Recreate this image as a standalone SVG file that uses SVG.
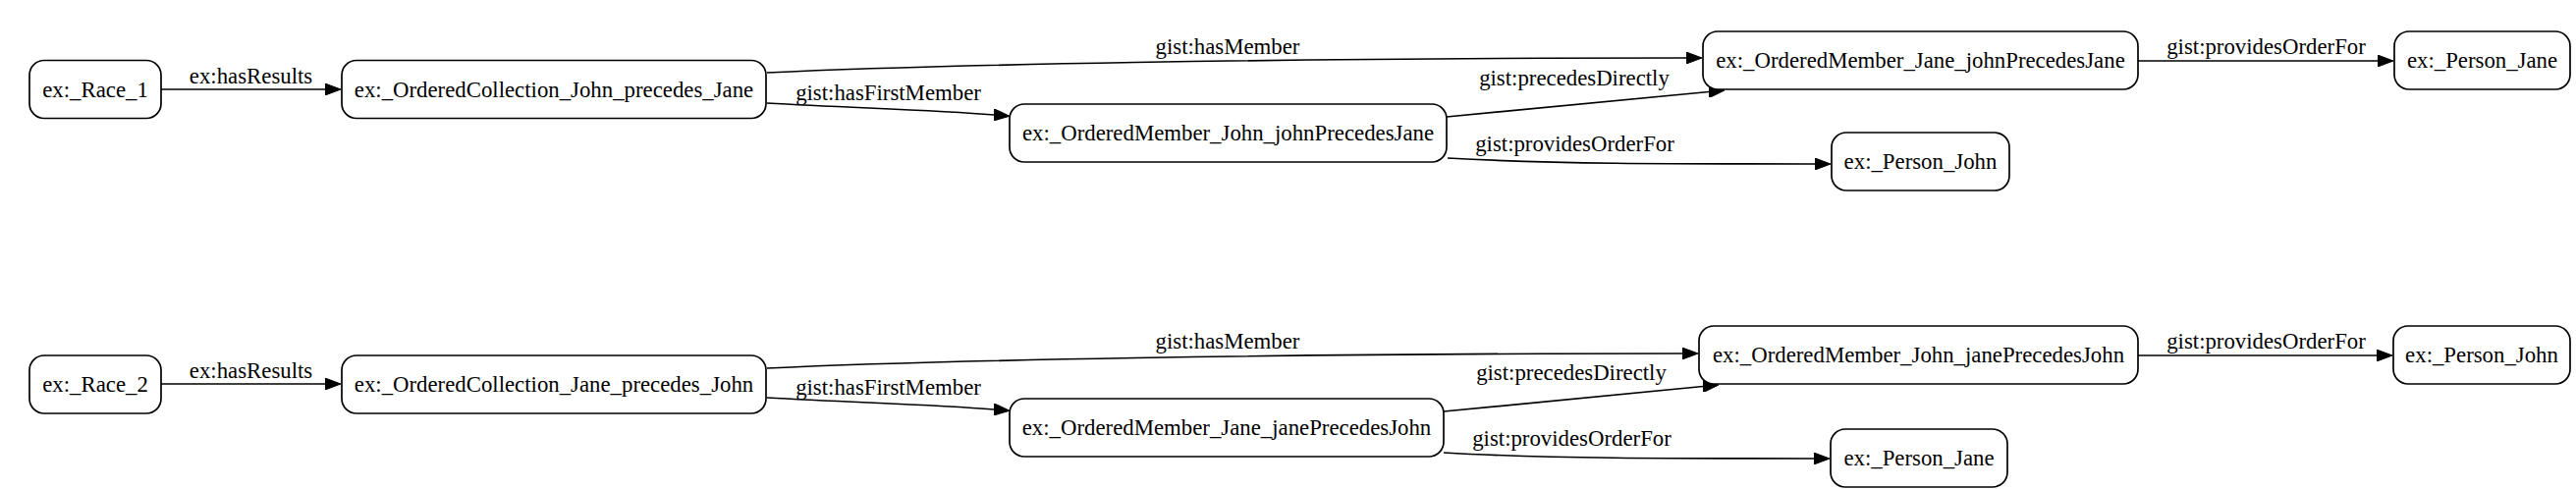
<svg xmlns="http://www.w3.org/2000/svg" width="2623" height="498" viewBox="0 0 2623 498">
<style>
.node rect{fill:#fff;stroke:#000;stroke-width:1.7}
text{font-family:"Liberation Serif","Times New Roman",serif;font-size:22.8px;fill:#000;text-anchor:middle}
.edge path{fill:none;stroke:#000;stroke-width:1.7}
</style>
<defs>
<marker id="arr" viewBox="0 0 16 12" refX="0" refY="6" markerWidth="16" markerHeight="12" markerUnits="userSpaceOnUse" orient="auto">
<path d="M0,0 L16,6 L0,12 z" fill="#000" stroke="#000" stroke-width="1"/>
</marker>
</defs>
<rect width="2623" height="498" fill="#fff"/>
<g id="connectors" class="edge">
<path d="M164,91 L331,91" marker-end="url(#arr)"/>
<text x="255.5" y="85">ex:hasResults</text>
<path d="M781,74 C950,66 1300,59 1717,59" marker-end="url(#arr)"/>
<text x="1250" y="55">gist:hasMember</text>
<path d="M781,105 C870,110 950,112 1012,117" marker-end="url(#arr)"/>
<text x="904.5" y="102">gist:hasFirstMember</text>
<path d="M1473,119 C1570,110 1660,101 1740,93.5" marker-end="url(#arr)"/>
<text x="1603" y="87">gist:precedesDirectly</text>
<path d="M1474,161 C1580,167 1700,167 1848,167" marker-end="url(#arr)"/>
<text x="1603.5" y="154">gist:providesOrderFor</text>
<path d="M2177,62 L2421,62" marker-end="url(#arr)"/>
<text x="2307.5" y="55">gist:providesOrderFor</text>

<path d="M164,391 L331,391" marker-end="url(#arr)"/>
<text x="255.5" y="385">ex:hasResults</text>
<path d="M781,375 C950,367 1300,360 1713,360" marker-end="url(#arr)"/>
<text x="1250" y="355">gist:hasMember</text>
<path d="M781,405 C870,410 950,412 1012,417" marker-end="url(#arr)"/>
<text x="904.5" y="402">gist:hasFirstMember</text>
<path d="M1470,419 C1567,410 1657,401 1734,393.5" marker-end="url(#arr)"/>
<text x="1600" y="387">gist:precedesDirectly</text>
<path d="M1470,461 C1576,467 1700,467 1847,467" marker-end="url(#arr)"/>
<text x="1600.5" y="454">gist:providesOrderFor</text>
<path d="M2177,362 L2420,362" marker-end="url(#arr)"/>
<text x="2307.5" y="355">gist:providesOrderFor</text>
</g>

<g id="race1" class="node"><rect x="30" y="61.5" width="134" height="59" rx="15"/><text x="97" y="98.5">ex:_Race_1</text></g>
<g id="coll1" class="node"><rect x="348" y="61.5" width="432" height="59" rx="15"/><text x="564" y="98.5">ex:_OrderedCollection_John_precedes_Jane</text></g>
<g id="om_john_john" class="node"><rect x="1028" y="106" width="445" height="59" rx="15"/><text x="1250.5" y="143">ex:_OrderedMember_John_johnPrecedesJane</text></g>
<g id="om_jane_john" class="node"><rect x="1734" y="32" width="443" height="59" rx="15"/><text x="1955.5" y="69">ex:_OrderedMember_Jane_johnPrecedesJane</text></g>
<g id="person_jane1" class="node"><rect x="2438" y="32" width="179" height="59" rx="15"/><text x="2527.5" y="69">ex:_Person_Jane</text></g>
<g id="person_john1" class="node"><rect x="1865" y="135" width="181" height="59" rx="15"/><text x="1955.5" y="172">ex:_Person_John</text></g>

<g id="race2" class="node"><rect x="30" y="362" width="134" height="59" rx="15"/><text x="97" y="399">ex:_Race_2</text></g>
<g id="coll2" class="node"><rect x="348" y="362" width="432" height="59" rx="15"/><text x="564" y="399">ex:_OrderedCollection_Jane_precedes_John</text></g>
<g id="om_jane_jane" class="node"><rect x="1028" y="406" width="442" height="59" rx="15"/><text x="1249" y="443">ex:_OrderedMember_Jane_janePrecedesJohn</text></g>
<g id="om_john_jane" class="node"><rect x="1730" y="332" width="447" height="59" rx="15"/><text x="1953.5" y="369">ex:_OrderedMember_John_janePrecedesJohn</text></g>
<g id="person_john2" class="node"><rect x="2437" y="332" width="180" height="59" rx="15"/><text x="2527" y="369">ex:_Person_John</text></g>
<g id="person_jane2" class="node"><rect x="1864" y="437" width="180" height="59" rx="15"/><text x="1954" y="474">ex:_Person_Jane</text></g>
</svg>
